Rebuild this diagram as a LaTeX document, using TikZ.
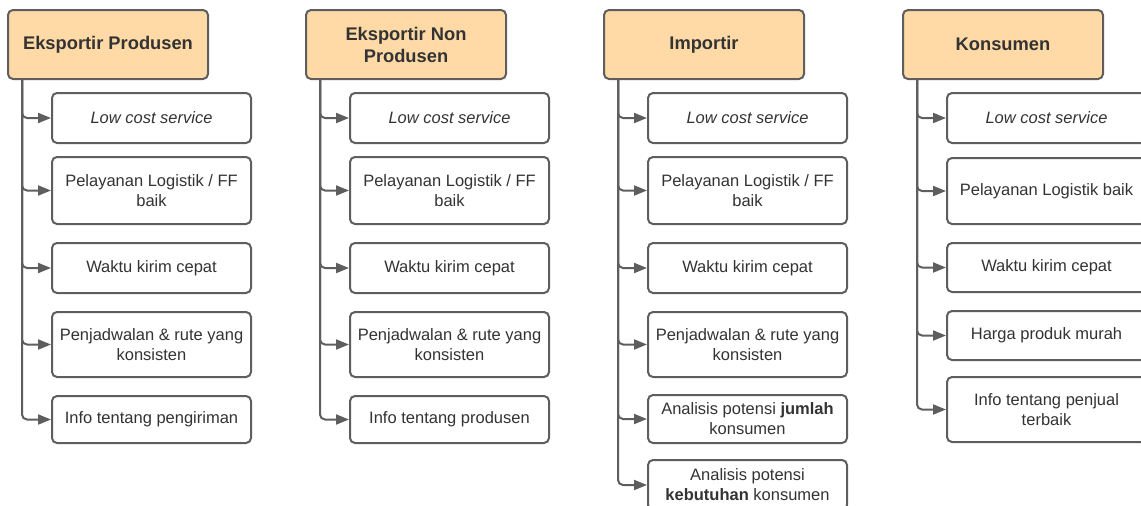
\documentclass[tikz,border=0pt]{standalone}
\usepackage{fontspec}
\setmainfont{Liberation Sans}
\usetikzlibrary{arrows.meta,positioning}
\definecolor{linegray}{HTML}{5E5E5E}
\definecolor{textgray}{HTML}{333333}
\definecolor{peach}{HTML}{FFDAA6}
\tikzset{
  base/.style={draw=linegray, line width=2pt, rounded corners=5pt, inner sep=0pt, align=center, text=textgray},
  head/.style={base, fill=peach, minimum width=200pt, minimum height=69pt, font=\fontsize{18.3}{22}\selectfont\bfseries},
  item/.style={base, fill=white, minimum width=199pt, font=\fontsize{16.5}{20}\selectfont},
  conn/.style={draw=linegray, line width=2pt, rounded corners=5pt, -{Triangle[length=13pt,width=10pt]}},
}
\begin{document}
\begin{tikzpicture}[x=1pt,y=-1pt]
\useasboundingbox (0,0) rectangle (1141,506);
\clip (0,0) rectangle (1141,506);
% column 1
\node[head] (h1) at (108,44.5) {Eksportir Produsen};
\node[item, minimum height=50pt] (a1) at (151.5,118) {\itshape Low cost service};
\node[item, minimum height=67pt] (a2) at (151.5,190.5) {Pelayanan Logistik / FF\\baik};
\node[item, minimum height=50pt] (a3) at (151.5,268) {Waktu kirim cepat};
\node[item, minimum height=65pt] (a4) at (151.5,344.5) {Penjadwalan \& rute yang\\konsisten};
\node[item, minimum height=47pt] (a5) at (151.5,419.5) {Info tentang pengiriman};
\foreach \n in {a1,a2,a3,a4,a5} \draw[conn] ([xshift=15pt]h1.south west) |- (\n.west);
% column 2
\node[head] (h2) at (406,44.5) {Eksportir Non\\Produsen};
\node[item, minimum height=50pt] (b1) at (449.5,118) {\itshape Low cost service};
\node[item, minimum height=67pt] (b2) at (449.5,190.5) {Pelayanan Logistik / FF\\baik};
\node[item, minimum height=50pt] (b3) at (449.5,268) {Waktu kirim cepat};
\node[item, minimum height=65pt] (b4) at (449.5,344.5) {Penjadwalan \& rute yang\\konsisten};
\node[item, minimum height=47pt] (b5) at (449.5,419.5) {Info tentang produsen};
\foreach \n in {b1,b2,b3,b4,b5} \draw[conn] ([xshift=15pt]h2.south west) |- (\n.west);
% column 3
\node[head] (h3) at (704,44.5) {Importir};
\node[item, minimum height=50pt] (c1) at (747.5,118) {\itshape Low cost service};
\node[item, minimum height=67pt] (c2) at (747.5,190.5) {Pelayanan Logistik / FF\\baik};
\node[item, minimum height=50pt] (c3) at (747.5,268) {Waktu kirim cepat};
\node[item, minimum height=65pt] (c4) at (747.5,344.5) {Penjadwalan \& rute yang\\konsisten};
\node[item, minimum height=48pt] (c5) at (747.5,419) {Analisis potensi \textbf{jumlah}\\konsumen};
\node[item, minimum height=50pt] (c6) at (747.5,485) {Analisis potensi\\\textbf{kebutuhan} konsumen};
\foreach \n in {c1,c2,c3,c4,c5,c6} \draw[conn] ([xshift=15pt]h3.south west) |- (\n.west);
% column 4
\node[head] (h4) at (1003,44.5) {Konsumen};
\node[item, minimum height=50pt] (d1) at (1046.5,118) {\itshape Low cost service};
\node[item, minimum height=66pt] (d2) at (1046.5,191) {Pelayanan Logistik baik};
\node[item, minimum height=49pt] (d3) at (1046.5,267.5) {Waktu kirim cepat};
\node[item, minimum height=49pt] (d4) at (1046.5,335.5) {Harga produk murah};
\node[item, minimum height=65pt] (d5) at (1046.5,409.5) {Info tentang penjual\\terbaik};
\foreach \n in {d1,d2,d3,d4,d5} \draw[conn] ([xshift=15pt]h4.south west) |- (\n.west);
\end{tikzpicture}
\end{document}
